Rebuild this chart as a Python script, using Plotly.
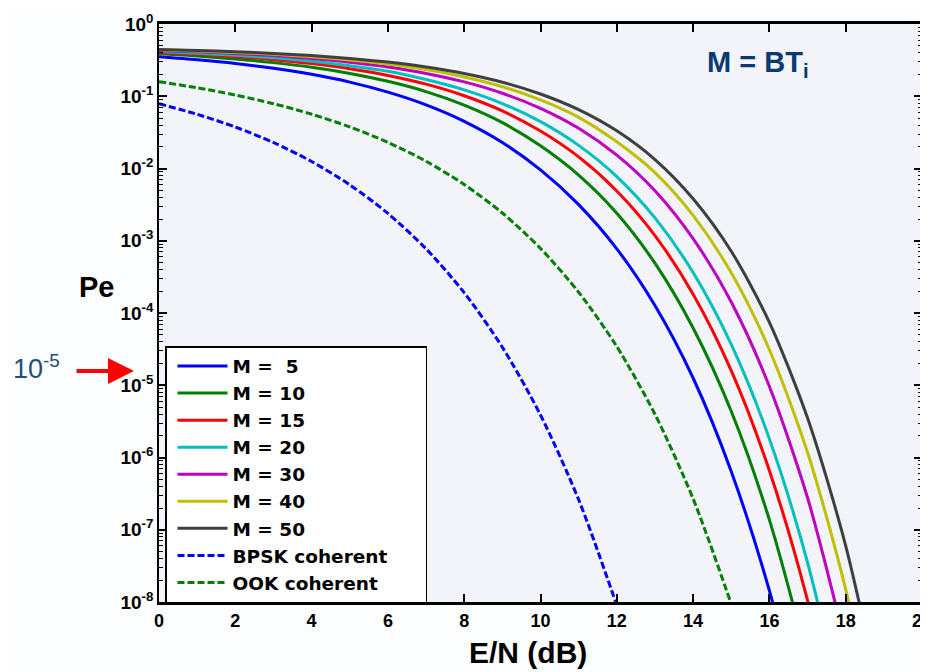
import plotly.graph_objects as go

# ---------------- data ----------------
db = [0, 1, 2, 3, 4, 5, 6, 7, 8, 9, 10, 11, 12, 13, 14, 15, 16, 17, 18, 19]

pe_m5 = [0.351, 0.319, 0.284, 0.244, 0.201, 0.157, 0.114, 0.076, 0.0450, 0.0229,
         0.00955, 3.16e-3, 7.73e-4, 1.27e-4, 1.26e-5, 6.4e-7, 1.43e-8, 1.1e-10]
pe_m10 = [0.386, 0.360, 0.328, 0.292, 0.252, 0.207, 0.161, 0.116, 0.0753, 0.0431,
          0.0206, 8.09e-3, 2.40e-3, 4.89e-4, 6.2e-5, 4.36e-6, 1.37e-7, 1.6e-9]
pe_m15 = [0.404, 0.381, 0.353, 0.321, 0.283, 0.240, 0.194, 0.147, 0.1017, 0.0627,
          0.0330, 0.01446, 4.89e-3, 1.18e-3, 1.82e-4, 1.59e-5, 6.56e-7, 1.05e-8, 5e-11]
pe_m20 = [0.416, 0.395, 0.369, 0.340, 0.304, 0.2635, 0.2218, 0.1703, 0.1225, 0.0792,
          0.0445, 0.0209, 7.73e-3, 2.07e-3, 3.63e-4, 3.67e-5, 1.81e-6, 3.52e-8, 2e-10]
pe_m30 = [0.430, 0.412, 0.391, 0.365, 0.333, 0.296, 0.254, 0.207, 0.158, 0.110,
          0.068, 0.036, 0.0153, 4.92e-3, 1.07e-3, 1.42e-4, 9.6e-6, 2.77e-7, 2.5e-9]
pe_m40 = [0.439, 0.423, 0.404, 0.380, 0.352, 0.318, 0.279, 0.234, 0.185, 0.1356,
          0.0889, 0.0511, 0.0234, 8.77e-3, 2.24e-3, 3.6e-4, 3.1e-5, 1.17e-6, 1.5e-8, 5e-11]
pe_m50 = [0.445, 0.430, 0.413, 0.392, 0.366, 0.334, 0.297, 0.2545, 0.2066, 0.1566,
          0.1075, 0.0653, 0.0332, 0.0133, 3.82e-3, 7.16e-4, 7.43e-5, 3.51e-6, 6.0e-8, 2.6e-10]
pe_bpsk = [0.0786, 0.0563, 0.0375, 0.0229, 0.0125, 5.95e-3, 2.39e-3, 7.73e-4,
           1.91e-4, 3.36e-5, 3.87e-6, 2.61e-7, 9.0e-9]
pe_ook = [0.1587, 0.131, 0.104, 0.0789, 0.0565, 0.0377, 0.0230, 0.0126, 6.0e-3,
          2.42e-3, 7.83e-4, 1.94e-4, 3.43e-5, 3.97e-6, 2.69e-7, 9.4e-9]

series_names = ["M = \u00a05", "M = 10", "M = 15", "M = 20", "M = 30", "M = 40",
                "M = 50", "BPSK coherent", "OOK coherent"]
series_values = [pe_m5, pe_m10, pe_m15, pe_m20, pe_m30, pe_m40, pe_m50, pe_bpsk, pe_ook]

x_ticks = [0, 2, 4, 6, 8, 10, 12, 14, 16, 18, 20]
y_ticks = [1e0, 1e-1, 1e-2, 1e-3, 1e-4, 1e-5, 1e-6, 1e-7, 1e-8]
y_ticktext = ["10<sup>0</sup>", "10<sup>-1</sup>", "10<sup>-2</sup>", "10<sup>-3</sup>",
              "10<sup>-4</sup>", "10<sup>-5</sup>", "10<sup>-6</sup>", "10<sup>-7</sup>",
              "10<sup>-8</sup>"]

# ---------------- styles ----------------
colors = ["#0000ff", "#007f00", "#ff0000", "#00bfbf", "#bf00bf", "#bfbf00", "#3f3f3f",
          "#0000ff", "#007f00"]
dashes = ["solid"] * 7 + ["7px,3px", "7px,3px"]
LEGEND_PAD = "\u00a0" * 5    # blank room at the right of the legend box

OFF = 8                      # page margin of the html body
W, H = 920, 664              # figure size (placed at OFF, OFF in the page)
L, R, T, B = 151, 6, 16, 70  # plot area: page x 159..922, page y 24..602
pw, ph = W - L - R, H - T - B


def fx(px):
    """page pixel x -> paper coordinate"""
    return (px - OFF - L) / pw


def fy(py):
    """page pixel y -> paper coordinate"""
    return (H - B - (py - OFF)) / ph


FONT = "Liberation Sans, Arial, Helvetica, sans-serif"
LFONT = "DejaVu Sans, Verdana, sans-serif"

fig = go.Figure()
for name, vals, c, d in zip(series_names, series_values, colors, dashes):
    fig.add_trace(go.Scatter(
        x=db[:len(vals)], y=vals, mode="lines", name=name + LEGEND_PAD,
        line=dict(color=c, width=3, dash=d, shape="spline", smoothing=0.8),
    ))

minor_vals = [k * 10.0 ** (-n) for n in range(1, 9) for k in range(2, 10)]

fig.update_layout(
    width=W, height=H,
    margin=dict(l=L, r=R, t=T, b=B, autoexpand=False),
    paper_bgcolor="#fcfdfe",
    plot_bgcolor="#f2f4fa",
    showlegend=True,
    legend=dict(
        x=fx(165), y=fy(346), xanchor="left", yanchor="top",
        bgcolor="white", bordercolor="black", borderwidth=1.5,
        font=dict(family=LFONT, size=18.5, color="black", weight="bold"),
        itemwidth=50, tracegroupgap=0, indentation=6,
    ),
    xaxis=dict(
        range=[0, 20], tickmode="array", tickvals=x_ticks,
        ticks="inside", ticklen=8, tickwidth=2, tickcolor="black",
        showline=True, linecolor="black", linewidth=3, mirror="ticks",
        showgrid=False, zeroline=False, automargin=False,
        ticklabeloverflow="allow",
        tickfont=dict(family=FONT, size=18, color="black", weight="bold"),
    ),
    yaxis=dict(
        type="log", range=[-8, 0], tickmode="array", tickvals=y_ticks,
        ticktext=y_ticktext,
        ticks="inside", ticklen=8, tickwidth=1.5, tickcolor="black",
        showline=True, linecolor="black", linewidth=1.5, mirror="ticks",
        showgrid=False, zeroline=False, automargin=False,
        tickfont=dict(family=FONT, size=19, color="black", weight="bold"),
        minor=dict(tickmode="array", tickvals=minor_vals, ticks="inside",
                   ticklen=4, tickwidth=1, tickcolor="black", showgrid=False),
    ),
    annotations=[
        dict(text="Pe", xref="paper", yref="paper", x=fx(96), y=fy(287),
             xanchor="center", yanchor="middle", showarrow=False,
             font=dict(family=FONT, size=29, color="black", weight="bold")),
        dict(text="E/N (dB)", xref="paper", yref="paper", x=fx(528), y=fy(652),
             xanchor="center", yanchor="middle", showarrow=False,
             font=dict(family=FONT, size=30, color="black", weight="bold")),
        dict(text="M = BT<sub>i</sub>", xref="paper", yref="paper", x=fx(758), y=fy(64),
             xanchor="center", yanchor="middle", showarrow=False,
             font=dict(family=FONT, size=29, color="#0b3a6e", weight="bold")),
        dict(text="10<sup>-5</sup>", xref="paper", yref="paper", x=fx(11), y=fy(367),
             xanchor="left", yanchor="middle", showarrow=False,
             font=dict(family=FONT, size=27, color="#1f4e7a")),
        dict(text="", xref="paper", yref="paper", x=fx(134), y=fy(371),
             ax=-59, ay=0, showarrow=True, arrowhead=2, arrowsize=1.3,
             arrowwidth=4, arrowcolor="#ff0000"),
    ],
)

fig.write_html("out.html")
